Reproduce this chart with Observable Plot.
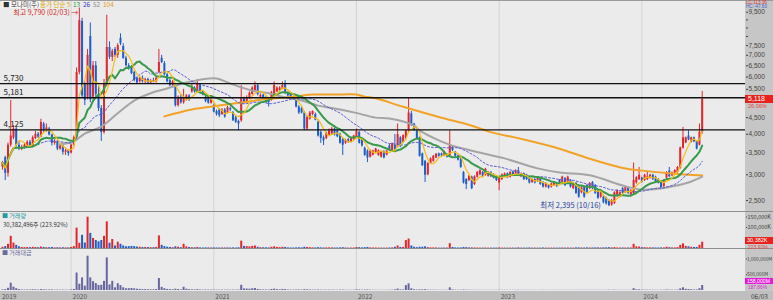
<!DOCTYPE html>
<html><head><meta charset="utf-8">
<script src="https://cdn.jsdelivr.net/npm/d3@7"></script>
<script src="https://cdn.jsdelivr.net/npm/@observablehq/plot@0.6"></script>
<style>
html,body{margin:0;padding:0;background:#fff}
#wrap{position:relative;width:773px;height:300px;overflow:hidden;background:#ebebeb;font-family:"Noto Sans CJK KR","Noto Sans",sans-serif}
#wrap svg{position:absolute;left:0}
.t{position:absolute;font-size:7.5px;line-height:9px;white-space:nowrap}
.n{font-family:"Liberation Sans","DejaVu Sans",sans-serif}
.bg{position:absolute}
</style></head><body><div id="wrap"></div>
<script>
// ---------------- DATA (weekly candles, first week 2019-07-15) ----------------
const firstWeek = "2019-07-15";
const opens = [3170,3390,3030,3700,3900,4150,3700,3600,3640,3650,
3780,3650,3880,4000,3920,4300,4100,4150,3980,3750,
3800,3600,3680,3520,3560,3500,3700,3900,6200,8900,
5700,5200,8000,5200,6500,5300,4800,4050,5700,7400,
6900,7300,7000,7900,7450,6850,6500,6450,6200,5950,
5800,5950,5800,5900,5750,5850,5800,6200,6850,6600,
6100,5850,5650,5650,4900,5200,5000,5100,5250,5400,
5550,5400,5650,5400,5200,5150,4980,4900,4700,4750,
4600,4750,4650,4800,4660,4500,4380,4400,5150,5000,
5150,5300,5450,5650,5200,5280,5180,5100,5080,5200,
5400,5450,5500,5700,5350,5300,5200,5150,4850,4800,
4650,4150,4450,4600,4600,4350,4050,3900,3880,3950,
4000,4150,4100,4000,3850,3750,3850,3780,3850,3900,
4050,3850,3620,3550,3400,3450,3500,3440,3400,3520,
3450,3680,3560,3700,3650,3900,3770,3880,4100,4620,
4300,4100,3900,3480,3300,3000,3250,3300,3380,3480,
3480,3430,3460,3440,3650,3520,3430,3350,3050,2900,
2880,2950,2800,2950,3000,3050,2990,2970,3050,3000,
2950,2830,2900,2960,3020,2950,3060,2990,3090,2960,
3020,2990,2920,2840,2900,2860,2920,2840,2750,2780,
2750,2780,2820,2880,2830,2920,2840,2880,2720,2820,
2750,2640,2740,2780,2720,2840,2780,2680,2560,2560,
2540,2500,2420,2450,2580,2570,2720,2650,2720,2600,
2630,2830,2900,2930,2880,2900,2930,2990,2950,2900,
2840,2760,2930,3080,2980,3040,3050,3140,3620,3760,
3950,3780,3900,3800,3700,4060];
const highs = [3300,3420,3760,5080,4250,4200,3800,3700,3750,3820,
3830,3950,4080,4050,4450,4350,4300,4200,4000,3850,
3830,3720,3700,3600,3580,3720,3950,6400,9790,9100,
5800,7300,8800,6700,6700,5600,4900,5900,9300,7700,
7300,7400,7600,8150,7600,6950,6600,6500,6250,6000,
6000,6050,5950,5950,5900,5950,6000,7300,7000,6700,
6150,5900,5850,5700,5250,5300,5500,5300,5300,5700,
5600,5900,5700,5450,5250,5200,5150,4950,4750,4800,
4800,4800,4880,4850,4700,4550,4420,5650,5200,5250,
5400,5600,5800,5700,5320,5320,5220,5150,5420,5800,
5600,5600,5800,5850,5400,5330,5250,5200,4900,4850,
4700,4550,4700,4720,4650,4400,4100,3950,4060,4150,
4200,4180,4120,4030,3880,3860,3880,3900,3970,4150,
4080,3870,3650,3580,3580,3570,3620,3580,3540,3560,
3570,3720,3760,3990,4300,3930,3980,4120,5190,4700,
4320,4120,3920,3500,3320,3270,3380,3440,3490,3500,
3500,3550,3480,4100,3680,3540,3450,3370,3070,2920,
2990,2970,2980,3070,3110,3070,3140,3070,3070,3020,
2970,2970,3020,3040,3040,3070,3080,3110,3160,3040,
3040,3010,2940,2920,2920,2950,2940,2860,2840,2800,
2830,2860,2840,2900,2970,2940,2970,2900,2840,2840,
2770,2760,2760,2800,2840,2860,2800,2700,2670,2580,
2560,2520,2520,2660,2700,2660,2740,2760,2740,2700,
3260,2960,3160,2950,3010,3050,3010,3010,2970,2920,
2860,2900,3070,3160,3060,3110,3180,3650,4200,3920,
4100,3920,3920,3820,4300,5420];
const lows = [3100,2880,2950,3650,3850,3650,3560,3560,3600,3620,
3620,3630,3850,3880,3900,4050,4060,3950,3680,3700,
3560,3570,3450,3440,3420,3480,3680,3850,6100,5150,
4900,5100,5000,5100,5200,4700,3800,4000,5600,6800,
6700,6900,6850,7500,6800,6450,6300,6100,5800,5700,
5750,5750,5700,5700,5700,5750,5750,6150,6600,6050,
5750,5600,5600,4850,4850,4950,4950,5050,5050,5350,
5350,5380,5350,5250,5000,4950,4950,4650,4550,4500,
4570,4480,4620,4700,4380,4320,4100,4350,4950,4980,
5120,5280,5420,5250,5180,5100,4980,4850,5050,5180,
5380,5420,5480,5300,5200,5150,5080,4820,4600,4620,
4100,4100,4420,4560,4400,3920,3750,3690,3850,3930,
3980,3950,3900,3730,3440,3720,3750,3760,3830,3880,
3730,3650,3420,3270,3380,3430,3480,3420,3380,3360,
3430,3540,3540,3570,3630,3640,3750,3860,4050,4230,
4080,3860,3400,3180,2840,2980,3230,3280,3360,3400,
3410,3410,3380,3420,3540,3400,3310,3140,2810,2700,
2860,2700,2780,2930,2980,2940,2970,2950,2940,2910,
2860,2680,2880,2940,2920,2930,2960,2970,2980,2940,
2880,2880,2810,2820,2810,2840,2780,2730,2730,2710,
2730,2760,2740,2810,2810,2760,2820,2730,2700,2610,
2540,2620,2540,2630,2700,2700,2610,2520,2540,2440,
2420,2395,2400,2430,2560,2550,2610,2630,2610,2580,
2610,2810,2880,2830,2860,2880,2910,2880,2840,2810,
2700,2740,2910,2940,2960,3020,3030,3120,3600,3740,
3820,3760,3770,3580,3680,4000];
const closes = [3270,3030,3700,3950,4150,3700,3620,3640,3700,3780,
3650,3900,4000,3920,4350,4100,4180,3980,3750,3800,
3600,3680,3520,3560,3480,3700,3900,6200,8960,5250,
5080,7000,5100,6500,5300,4800,4050,5700,7400,6900,
7200,7000,7500,7600,6850,6500,6400,6150,5850,5750,
5950,5800,5900,5750,5850,5800,5950,6650,6650,6100,
5800,5650,5800,4900,5200,5000,5150,5250,5100,5550,
5400,5700,5400,5300,5050,4980,5100,4680,4600,4560,
4750,4520,4830,4750,4400,4350,4300,5150,5000,5180,
5350,5550,5650,5300,5270,5150,5020,5000,5380,5650,
5550,5550,5650,5350,5250,5200,5120,4850,4650,4650,
4150,4500,4650,4700,4420,3950,3880,3820,4030,4100,
4150,3980,3930,3750,3700,3830,3780,3880,3950,4080,
3750,3680,3440,3380,3560,3550,3600,3560,3520,3380,
3550,3560,3740,3580,3990,3660,3960,4100,4650,4250,
4100,3880,3420,3200,2990,3250,3360,3420,3470,3420,
3430,3530,3400,3700,3560,3420,3330,3160,2830,2800,
2970,2720,2960,3050,3090,2960,3120,3050,2960,2930,
2880,2950,3000,3020,2940,3050,2980,3090,3000,3020,
2900,2900,2830,2900,2830,2930,2800,2750,2820,2730,
2810,2840,2760,2830,2950,2780,2950,2750,2820,2630,
2560,2740,2560,2650,2820,2720,2630,2540,2650,2460,
2440,2410,2500,2640,2680,2640,2630,2740,2630,2680,
2880,2940,2990,2850,2990,2960,2990,2900,2860,2830,
2720,2880,3050,2960,3040,3090,3160,3630,3900,3900,
3840,3900,3790,3600,4060,5118];
// weekly volume, thousand shares
const volumes = [6000,9000,20000,58000,26000,15000,8000,5000,4000,4500,
4000,6000,5000,4000,7000,5000,4000,4000,5000,3000,
3500,3000,3500,3000,3000,5000,9000,97000,25000,63000,
26000,149000,72000,48000,38000,32000,38000,58000,127000,25000,
43000,12000,30000,20000,12000,8000,9000,10000,9000,7000,
6000,5000,5000,4500,4000,4000,5000,60000,15000,9000,
6000,5000,4000,8000,6000,4000,20000,8000,5000,4000,
3500,5000,3000,2500,3000,3000,2500,3000,2500,2500,
2500,2500,3000,2500,3000,2500,3500,35000,10000,9000,
8000,10000,12000,6000,4000,3500,3500,3000,6000,8000,
5000,4000,6000,5000,3000,2500,2500,3000,3500,3000,
6000,5000,4000,3000,3000,4000,3000,2500,3000,3000,
3000,2500,2500,3000,4000,2500,2000,2000,2500,5000,
4000,3000,4000,5000,3000,2500,2500,2000,2000,2000,
2000,2500,3000,6000,12000,5000,5000,38000,45000,12000,
6000,4000,6000,6000,8000,4000,3000,3000,2500,2000,
2000,2500,2000,23000,5000,3000,2500,3000,5000,4000,
3000,3000,2500,2500,2000,2000,2500,2000,2000,2000,
2000,3000,2000,2000,2000,2000,2000,2000,3000,2000,
2000,2000,2500,2000,2000,2000,2000,2500,2000,2000,
2000,2000,2000,2000,2500,2000,2500,2000,2000,3000,
3000,2500,2500,3000,2500,2500,3000,3000,2500,3000,
3000,4000,3000,4000,2500,2500,2500,2500,2500,2500,
20000,8000,7000,4000,4000,3000,3000,3000,2500,2500,
3000,3000,6000,4000,3000,3000,4000,15000,22000,10000,
8000,6000,5000,5000,15000,30382];
// weekly trading value, million won
const tradeValues = [20000,27000,70000,232000,107000,58000,29000,18000,15000,17000,
15000,23000,20000,16000,29000,21000,17000,16000,19000,11000,
13000,11000,13000,11000,10000,18000,34000,555000,200000,400000,
138000,1090000,400000,280000,220000,160000,167000,290000,1035000,178000,
290000,85000,216000,154000,85000,54000,58000,63000,54000,41000,
35000,29000,29000,26000,23000,23000,30000,380000,100000,57000,
35000,29000,23000,42000,31000,20000,104000,42000,26000,22000,
19000,28000,17000,13000,15000,15000,13000,14000,12000,12000,
12000,12000,14000,12000,14000,11000,15000,165000,51000,46000,
42000,55000,67000,33000,21000,18000,18000,15000,32000,44000,
28000,22000,34000,28000,16000,13000,13000,15000,17000,14000,
26000,22000,18000,14000,14000,17000,12000,10000,12000,12000,
12000,10000,10000,12000,15000,9500,7600,7700,9800,20000,
16000,11000,14000,17000,10000,9000,9000,7000,7000,7000,
7000,9000,11000,22000,46000,19000,19000,155000,210000,53000,
25000,16000,22000,20000,25000,12000,10000,10000,8500,7000,
7000,8700,6900,86000,18000,10000,8500,9800,15000,11000,
8800,8500,7200,7500,6100,6000,7600,6000,6000,5900,
5800,8700,5900,6000,6000,6000,6000,6100,9200,6000,
5900,5900,7200,5700,5700,5800,5700,7000,5600,5500,
5600,5600,5600,5700,7200,5700,7300,5600,5500,8200,
8000,6700,6600,8100,6900,7000,8100,7800,6500,7500,
7500,9800,7400,10200,6600,6500,6700,6800,6700,6600,
58000,23000,21000,11600,11800,8900,8900,8900,7300,7200,
8300,8500,18000,12000,9000,9200,12400,51000,85000,38500,
31000,23000,19000,18500,58000,158000];
// 52- and 104-week moving averages (week index, price)
const ma52Weeks  = [21,26,30,36,42,48,54,60,67,78,82,91,97,103,109,115,121,128,136,141,150,152,159,164,171,183,195,203,214,226,233,242,250,255];
const ma52Values = [3730,3800,4020,4220,4640,5080,5350,5530,5770,5940,5770,5450,5350,5190,5080,4900,4800,4670,4500,4470,4250,4110,3830,3690,3560,3370,3140,3050,2990,2780,2700,2740,2840,2960];
const ma104Weeks  = [59,69,79,88,97,107,113,121,129,132,136,146,159,171,178,189,203,214,226,233,244,255];
const ma104Values = [4540,4770,4900,5020,5140,5230,5300,5300,5300,5220,5160,4860,4520,4250,4060,3870,3610,3360,3150,3090,3030,2985];
// levels, ticks, labels
const levels = [5730, 5181, 4125];
const priceTicks = [2500,3000,3500,4000,4500,5000,5500,6000,6500,7000,7500,8000,8500,9000,9500];
const volTicks = [50000,100000,150000];
const valTicks = [500000,1000000];
const yearStarts = ["2020-01-06","2021-01-04","2022-01-03","2023-01-02","2024-01-01"];
const yearLabels = ["2019","2020","2021","2022","2023","2024"];
const lastDateLabel = "06/03";
const hiDate = "02/03", loDate = "10/16";
const stockName = "모나미(주)";
const maLabels = ["종가 단순 5","13","26","52","104"];
const lastClosePct = "26.06%";
const volInfo = "30,382,496주 (223.92%)";
const volPct = "223.92%", valPct = "187.86%";
const lcText = "LC:113.36", hcText = "HC:-47.60";

// ---------------- BUILD ----------------
const fmt = d3.format(",");
const start = new Date(firstWeek + "T00:00:00Z");
const weeks = closes.map((c, i) => ({
  date: d3.utcDay.offset(start, 7 * i), open: opens[i], high: highs[i], low: lows[i], close: c,
  vol: volumes[i], val: tradeValues[i]
}));
const UP = "#e3262b", DN = "#1f5ec6";
weeks.forEach(d => d.c = d.close >= d.open ? UP : DN);
const wk = i => d3.utcDay.offset(start, 7 * i);
const ma52 = ma52Weeks.map((w, i) => ({date: wk(w), v: ma52Values[i]}));
const ma104 = ma104Weeks.map((w, i) => ({date: wk(w), v: ma104Values[i]}));
const yearDates = yearStarts.map(s => new Date(s + "T00:00:00Z"));
const lastClose = closes[closes.length - 1], lastVol = volumes[volumes.length - 1], lastVal = tradeValues[tradeValues.length - 1];

// x scale: first candle at 2px, 699.7px for 255 weeks, plot area 745px
const pxPerDay = 699.7 / (255 * 7);
const xDomain = [new Date(+start - (2 / pxPerDay) * 864e5), new Date(+start + (743 / pxPerDay) * 864e5)];
const W = 773, MR = 28;
const font = {background: "transparent", fontFamily: "'Noto Sans CJK KR','Noto Sans',sans-serif", overflow: "visible"};
const yMainDomain = [2296, 10326], yVolDomain = [0, 150000 * 36 / 31.5], yValDomain = [0, 1e6 * 41 / 31.5];

// hide axis ticks covered by the last-value boxes (as the reference does)
const yMainPx = v => 212 * (Math.log(yMainDomain[1]) - Math.log(v)) / (Math.log(yMainDomain[1]) - Math.log(yMainDomain[0]));
const mainTicks = priceTicks.filter(t => Math.abs(yMainPx(t) - yMainPx(lastClose)) > 6);
const volTickPx = v => 36 * (1 - v / yVolDomain[1]);
const volTicksShown = volTicks.filter(t => Math.abs(volTickPx(t) - volTickPx(lastVol)) > 7);

const wrap = document.getElementById("wrap");
function box(css) { const d = document.createElement("div"); d.className = "bg"; Object.assign(d.style, css); wrap.appendChild(d); return d; }
function txt(html, css, cls) { const d = document.createElement("div"); d.className = "t" + (cls ? " " + cls : ""); d.innerHTML = html; Object.assign(d.style, css); wrap.appendChild(d); return d; }

// background strips
box({left: "745px", top: "0px", width: "28px", height: "291px", background: "#c6c6c6"});
box({left: "0px", top: "291px", width: "773px", height: "9px", background: "#bfbfbf"});

const hiIdx = d3.maxIndex(weeks, d => d.high), loIdx = d3.minIndex(weeks, d => d.low);

const main = Plot.plot({
  width: W, height: 212, marginLeft: 0, marginRight: MR, marginTop: 0, marginBottom: 0,
  style: font,
  x: {type: "utc", domain: xDomain, axis: null},
  y: {type: "log", domain: yMainDomain, axis: null},
  color: {type: "identity"},
  marks: [
    Plot.ruleX(yearDates, {stroke: "#d3d3d3"}),
    Plot.ruleX(weeks, {x: "date", y1: "low", y2: "high", stroke: "c", strokeWidth: 1}),
    Plot.ruleX(weeks, {x: "date", y1: "open", y2: "close", stroke: "c", strokeWidth: 2}),
    Plot.line(ma104, {x: "date", y: "v", stroke: "#f2a226", strokeWidth: 2, curve: "catmull-rom"}),
    Plot.line(ma52, {x: "date", y: "v", stroke: "#a5a5a5", strokeWidth: 2, curve: "catmull-rom"}),
    Plot.lineY(weeks, Plot.windowY({k: 26, anchor: "end"}, {x: "date", y: "close", stroke: "#5a5ad6", strokeWidth: 1, strokeDasharray: "2,2"})),
    Plot.lineY(weeks, Plot.windowY({k: 13, anchor: "end"}, {x: "date", y: "close", stroke: "#3a9a4c", strokeWidth: 2})),
    Plot.lineY(weeks, Plot.windowY({k: 5, anchor: "end"}, {x: "date", y: "close", stroke: "#f5bd12", strokeWidth: 1.2})),
    Plot.ruleY(levels, {stroke: "#111", strokeWidth: 1.3}),
    Plot.text(levels, {y: d => d, frameAnchor: "left", dx: 3, dy: -5, text: d => fmt(d), textAnchor: "start", fontSize: 8, fill: "#222"}),
    Plot.axisY(mainTicks, {anchor: "right", label: null, tickSize: 2, tickPadding: 1, fontSize: 6.5, tickFormat: fmt, color: "#444", fontFamily: "Liberation Sans"}),
    Plot.text([weeks[hiIdx]], {x: "date", y: "high", text: d => `최고 ${fmt(d.high)} (${hiDate}) →`, textAnchor: "end", dx: -1, dy: 5, fontSize: 7, fill: "#d22a2a"}),
    Plot.text([weeks[loIdx]], {x: "date", y: "low", text: d => `최저 ${fmt(d.low)} (${loDate})`, textAnchor: "end", dx: -8, dy: -1, fontSize: 7.5, fill: "#24439c"})
  ]
});
main.style.top = "0px";
wrap.appendChild(main);

const volPlot = Plot.plot({
  width: W, height: 37, marginLeft: 0, marginRight: MR, marginTop: 0, marginBottom: 1,
  style: font,
  x: {type: "utc", domain: xDomain, axis: null},
  y: {domain: yVolDomain, axis: null},
  color: {type: "identity"},
  marks: [
    Plot.ruleX(yearDates, {stroke: "#d3d3d3"}),
    Plot.ruleX(weeks, {x: "date", y1: 0, y2: "vol", stroke: "c", strokeWidth: 2}),
    Plot.axisY(volTicksShown, {anchor: "right", label: null, tickSize: 1, tickPadding: 1, fontSize: 5.5, tickFormat: d => fmt(d) + "K", color: "#444"})
  ]
});
volPlot.style.top = "212px";
wrap.appendChild(volPlot);

const valPlot = Plot.plot({
  width: W, height: 42, marginLeft: 0, marginRight: MR, marginTop: 0, marginBottom: 1,
  style: font,
  x: {type: "utc", domain: xDomain, axis: null},
  y: {domain: yValDomain, axis: null},
  marks: [
    Plot.ruleX(yearDates, {stroke: "#d3d3d3"}),
    Plot.ruleX(weeks, {x: "date", y1: 0, y2: "val", stroke: "#67669f", strokeWidth: 2}),
    Plot.axisY(valTicks, {anchor: "right", label: null, tickSize: 1, tickPadding: 0.5, fontSize: 4.8, tickFormat: d => fmt(d) + "M", color: "#444"})
  ]
});
valPlot.style.top = "249px";
wrap.appendChild(valPlot);

// panel separators
box({left: "0px", top: "211px", width: "773px", height: "1px", background: "#8e8e8e"});
box({left: "0px", top: "248px", width: "773px", height: "1px", background: "#8e8e8e"});
box({left: "0px", top: "0px", width: "773px", height: "1px", background: "#9a9a9a"});

// bottom axis labels
const xs = main.scale("x");
txt(yearLabels[0], {left: "2px", top: "292px", color: "#555", fontSize: "6.5px", lineHeight: "8px"});
yearDates.forEach((d, i) => txt(yearLabels[i + 1], {left: (xs.apply(d) + 2) + "px", top: "292px", color: "#555", fontSize: "6.5px", lineHeight: "8px"}));
txt(lastDateLabel, {left: "751px", top: "292px", color: "#444", fontSize: "6.5px", lineHeight: "8px"});

// legend
txt("■ " + stockName, {left: "2px", top: "1px", color: "#333", background: "#f8f8f8", padding: "0 1px", fontSize: "6.5px", lineHeight: "7px"});
const maColors = ["#e0a800", "#2f9a45", "#3b3bc8", "#8e8e8e", "#e89a10"];
let lx = 40;
const lw = [31, 8, 8, 8, 11];
maLabels.forEach((s, i) => { txt(s, {left: lx + "px", top: "1px", color: maColors[i], fontSize: "6.5px", lineHeight: "7px"}); lx += lw[i] + 2; });

// right-side info
txt(lcText, {left: "746px", top: "0.5px", color: "#d33", fontSize: "4.6px", lineHeight: "4.6px"}, "n");
txt(hcText, {left: "746px", top: "5.2px", color: "#3a62c8", fontSize: "4.6px", lineHeight: "4.6px"}, "n");
const ys = main.scale("y");
const yLast = ys.apply(lastClose);
txt(fmt(lastClose), {left: "745px", top: (yLast - 4) + "px", width: "25px", height: "8px", lineHeight: "8px", background: "#e8221c", color: "#fff", fontSize: "7px", paddingLeft: "3px"}, "n");
txt(lastClosePct, {left: "748px", top: (yLast + 4.5) + "px", color: "#e0453e", fontSize: "5.5px", lineHeight: "6px"}, "n");

// volume panel labels
txt("■ 거래량", {left: "2px", top: "211.5px", color: "#2a9a9a", fontSize: "6px", lineHeight: "7px"});
txt(volInfo, {left: "3px", top: "221px", color: "#333", fontSize: "6px", lineHeight: "7px"});
const yv = volPlot.scale("y").apply(lastVol) + 212;
txt(fmt(lastVol) + "K", {left: "745px", top: (yv - 4.5) + "px", width: "26px", height: "7px", lineHeight: "7px", background: "#e8221c", color: "#fff", fontSize: "5.5px", paddingLeft: "2px"}, "n");
txt(volPct, {left: "748px", top: (yv + 3) + "px", color: "#e0453e", fontSize: "5px", lineHeight: "5.5px"}, "n");

txt("■ 거래대금", {left: "2px", top: "249px", color: "#6a6a9a", fontSize: "6px", lineHeight: "7px"});
const yt = valPlot.scale("y").apply(lastVal) + 249;
txt(fmt(lastVal) + "M", {left: "745px", top: (yt - 7.5) + "px", width: "26px", height: "6.5px", lineHeight: "6.5px", background: "#e619d8", color: "#fff", fontSize: "5.2px", paddingLeft: "2px"}, "n");
txt(valPct, {left: "748px", top: (yt - 0.5) + "px", color: "#d22fd0", fontSize: "4.8px", lineHeight: "5px"}, "n");
</script></body></html>
